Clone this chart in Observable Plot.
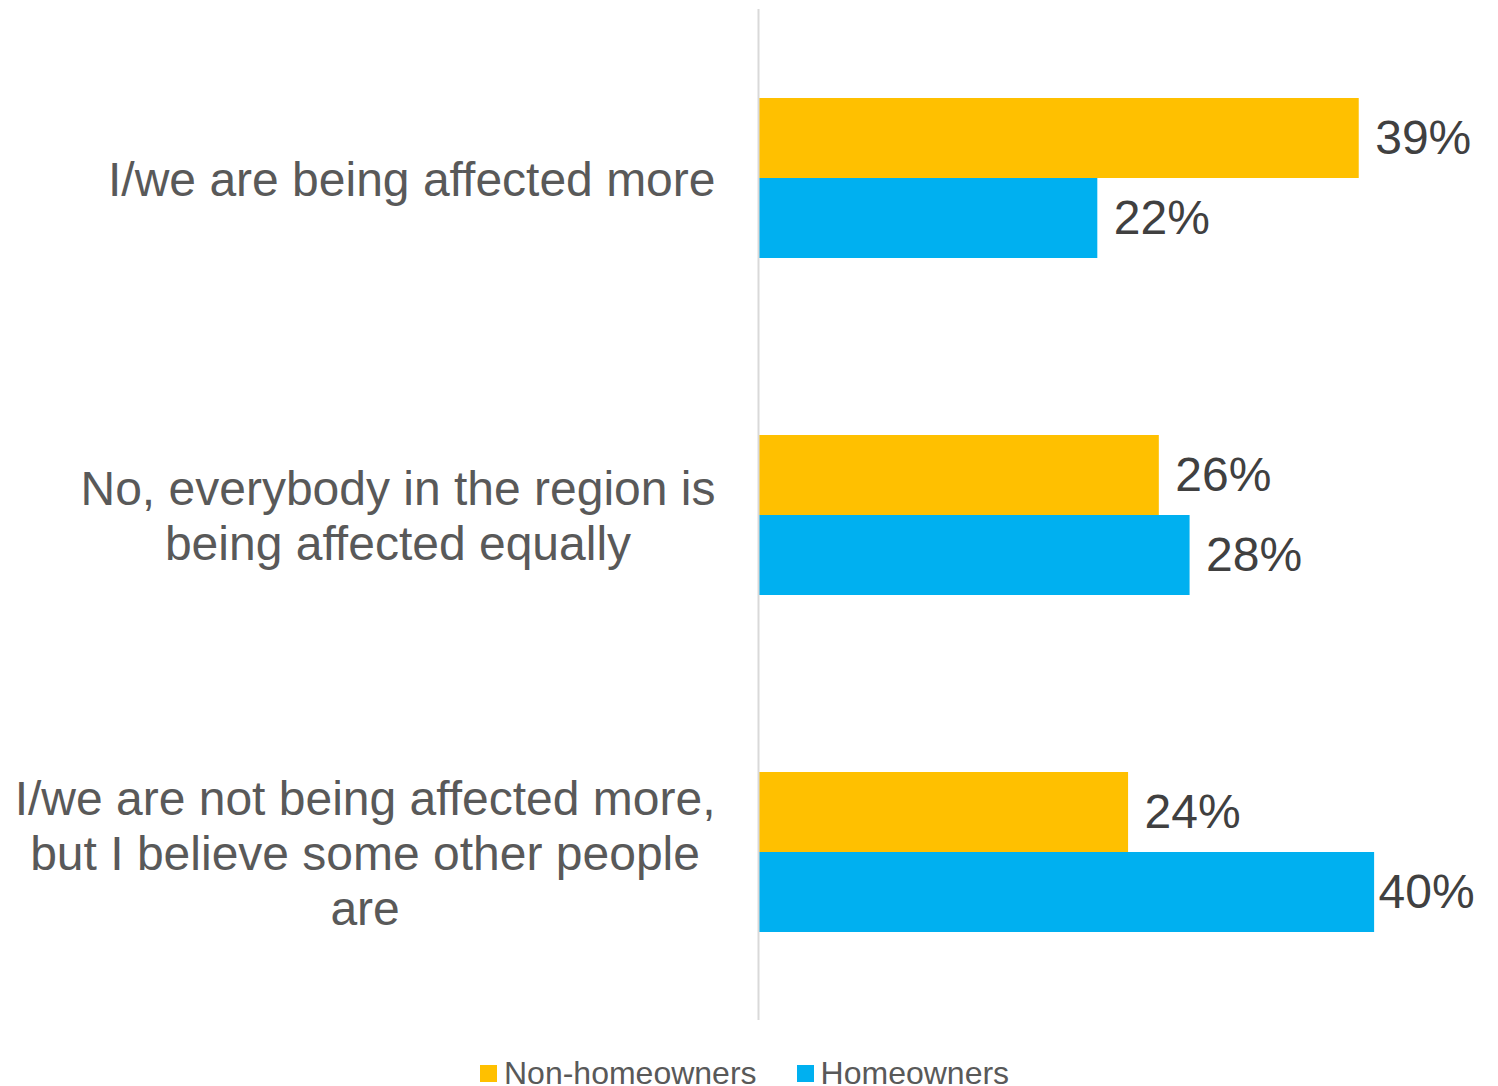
<!DOCTYPE html>
<html>
<head>
<meta charset="utf-8">
<script src="https://cdn.jsdelivr.net/npm/d3@7"></script>
<script src="https://cdn.jsdelivr.net/npm/@observablehq/plot@0.6"></script>
<style>
  html, body { margin: 0; padding: 0; background: #fff; }
  #wrap { position: relative; width: 1498px; height: 1086px; overflow: hidden; font-family: "Liberation Sans", Arial, sans-serif; }
  #legend { position: absolute; left: 480px; top: 1055px; display: flex; align-items: center; font-size: 32px; line-height: 36px; color: #595959; white-space: nowrap; }
  .item { display: flex; align-items: center; margin-right: 40px; }
  .sw { width: 17px; height: 17px; margin-right: 7px; }
</style>
</head>
<body>
<div id="wrap"></div>
<script>
const categories = [
  "I/we are being affected more",
  "No, everybody in the region is\nbeing affected equally",
  "I/we are not being affected more,\nbut I believe some other people\nare"
];
const seriesNames = ["Non-homeowners", "Homeowners"];
const nonHomeowners = [39, 26, 24];
const homeowners = [22, 28, 40];
const seriesColors = ["#FFC000", "#00B0F0"];

const data = [];
categories.forEach((c, i) => {
  data.push({category: c, series: seriesNames[0], value: nonHomeowners[i]});
  data.push({category: c, series: seriesNames[1], value: homeowners[i]});
});

const chart = Plot.plot({
  width: 1498,
  height: 1040,
  marginLeft: 759,
  marginRight: 47,
  marginTop: 8,
  marginBottom: 20,
  style: {fontFamily: "'Liberation Sans', Arial, sans-serif", fontSize: "48px", color: "#595959", background: "#fff"},
  x: {domain: [0, 45], axis: null},
  y: {domain: seriesNames, axis: null, paddingInner: 0, paddingOuter: 1.10625},
  fy: {domain: categories, axis: null, padding: 0},
  color: {domain: seriesNames, range: seriesColors},
  marks: [
    Plot.barX(data, {x: "value", y: "series", fy: "category", fill: "series"}),
    Plot.ruleX([0], {stroke: "#D9D9D9", strokeWidth: 2, dx: -1}),
    Plot.text(data, {x: "value", y: "series", fy: "category", text: d => d.value + "%", textAnchor: "start", dx: 16, fontSize: 48, fill: "#404040"}),
    Plot.text(categories, {fy: d => d, text: d => d, frameAnchor: "left", textAnchor: "end", dx: -44, lineHeight: 1.146, fontSize: 48, fill: "#595959"})
  ]
});

const wrap = document.getElementById("wrap");
wrap.appendChild(chart);

const svgRect = chart.getBoundingClientRect();
chart.querySelectorAll("text").forEach(t => {
  const spans = t.querySelectorAll("tspan");
  if (spans.length > 1) {
    // center each line of multi-line category labels within its block (right edge kept)
    let maxW = 0;
    spans.forEach(s => { maxW = Math.max(maxW, s.getComputedTextLength()); });
    t.setAttribute("text-anchor", "middle");
    spans.forEach(s => s.setAttribute("x", String(-maxW / 2)));
  } else if (/%$/.test(t.textContent)) {
    // keep value labels inside the chart area, as the original does
    const r = t.getBoundingClientRect();
    const limit = svgRect.left + 1473;
    if (r.right > limit) {
      const shift = Math.min(r.right - limit, 12);
      const tr = t.getAttribute("transform") || "";
      t.setAttribute("transform", (tr + " translate(" + (-shift) + ",0)").trim());
    }
  }
});

const legend = document.createElement("div");
legend.id = "legend";
seriesNames.forEach((name, i) => {
  const item = document.createElement("div");
  item.className = "item";
  const sw = document.createElement("div");
  sw.className = "sw";
  sw.style.background = seriesColors[i];
  const label = document.createElement("span");
  label.textContent = name;
  item.appendChild(sw);
  item.appendChild(label);
  legend.appendChild(item);
});
wrap.appendChild(legend);
</script>
</body>
</html>
